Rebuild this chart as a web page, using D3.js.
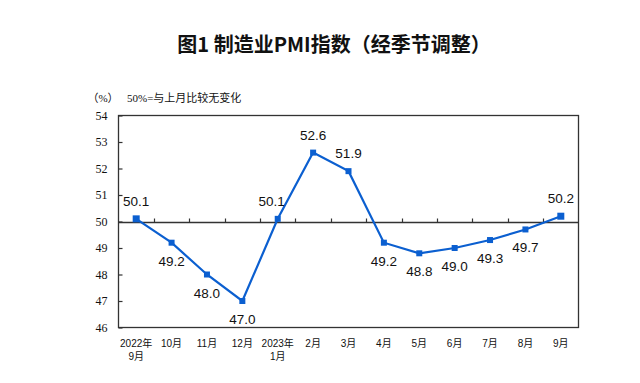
<!DOCTYPE html>
<html><head><meta charset="utf-8">
<script src="https://cdn.jsdelivr.net/npm/d3@7"></script>
<style>
html,body{margin:0;padding:0;background:#fff;}
svg{display:block;}
</style></head>
<body>
<svg id="c" width="640" height="383"></svg>
<script>
const categories = ["2022年\n9月","10月","11月","12月","2023年\n1月","2月","3月","4月","5月","6月","7月","8月","9月"];
const pmiValues = [50.1,49.2,48.0,47.0,50.1,52.6,51.9,49.2,48.8,49.0,49.3,49.7,50.2];
const labelSide = ["above","below","below","below","above","above","above","below","below","below","below","below","above"];
const yTicks = [46,47,48,49,50,51,52,53,54];
const titleText = "图1 制造业PMI指数（经季节调整）";
const unitText = "（%）";
const noteText = "50%=与上月比较无变化";

const svg = d3.select("#c");
const L = 118.5, R = 578.5, T = 115.5, B = 327.5;
const x = d3.scaleBand().domain(categories).range([L, R]).padding(0);
const y = d3.scaleLinear().domain([46,54]).range([B, T]);
const cx = d => x(d) + x.bandwidth()/2;
const blue = "#0b5fd0";
const axisColor = "#333";

// title
svg.append("text").attr("x", 334).attr("y", 52).attr("text-anchor","middle")
  .attr("font-family","'Noto Sans CJK SC'").attr("font-weight","bold").attr("font-size",20)
  .attr("fill","#111").text(titleText);
svg.append("text").attr("x", 103).attr("y", 102).attr("text-anchor","middle")
  .attr("font-family","'Liberation Serif','Noto Sans CJK SC'").attr("font-size",11).attr("fill","#111").text(unitText);
svg.append("text").attr("x", 127).attr("y", 102)
  .attr("font-family","'Liberation Serif','Noto Sans CJK SC'").attr("font-size",11).attr("fill","#111").text(noteText);

// frame
svg.append("rect").attr("x",L).attr("y",T).attr("width",R-L).attr("height",B-T)
  .attr("fill","none").attr("stroke",axisColor).attr("stroke-width",1.3);

// y axis
const yAxis = d3.axisLeft(y).tickValues(yTicks).tickSize(-4).tickPadding(10).tickFormat(d3.format("d"));
const ya = svg.append("g").attr("transform",`translate(${L},0)`).call(yAxis);
ya.select(".domain").remove();
ya.selectAll("line").attr("stroke",axisColor).attr("stroke-width",1.2);
ya.selectAll("text").attr("font-family","'Liberation Serif'").attr("font-size",12).attr("fill","#111").attr("x",-11);

// 50 baseline with category boundary ticks
const baseY = Math.round(y(50))+0.5;
const xAxis = d3.axisTop(x).tickSize(4).tickFormat("");
const xa = svg.append("g").attr("transform",`translate(0,${baseY})`).call(xAxis);
xa.select(".domain").attr("stroke",axisColor).attr("stroke-width",1.3).attr("d",`M${L},0H${R}`);
xa.selectAll(".tick").remove();
const bounds = categories.slice(1);
xa.selectAll("line.b").data(bounds).enter().append("line")
  .attr("x1",d=>Math.round(x(d))+0.5).attr("x2",d=>Math.round(x(d))+0.5)
  .attr("y1",0).attr("y2",-4).attr("stroke",axisColor).attr("stroke-width",1.2);

// x labels
const xl = svg.append("g");
categories.forEach(c => {
  const parts = c.split("\n");
  parts.forEach((p,i) => {
    xl.append("text").attr("x",cx(c)).attr("y",347 + i*13).attr("text-anchor","middle")
      .attr("font-family","'Liberation Sans','Noto Sans CJK SC'").attr("font-size",10).attr("fill","#111").text(p);
  });
});

// line
const data = categories.map((c,i)=>({c, v: pmiValues[i], side: labelSide[i], i}));
const line = d3.line().x(d=>cx(d.c)).y(d=>y(d.v));
svg.append("path").datum(data).attr("d",line).attr("fill","none")
  .attr("stroke",blue).attr("stroke-width",2.2);
svg.selectAll("rect.m").data(data).enter().append("rect")
  .attr("x",d=>cx(d.c)-((d.i===0||d.i===data.length-1)?3.5:3))
  .attr("y",d=>y(d.v)-((d.i===0||d.i===data.length-1)?3.5:3))
  .attr("width",d=>(d.i===0||d.i===data.length-1)?7:6)
  .attr("height",d=>(d.i===0||d.i===data.length-1)?7:6)
  .attr("fill",blue);

// value labels
svg.selectAll("text.v").data(data).enter().append("text")
  .attr("x",d=>cx(d.c) + (d.i===4 ? -6 : 0))
  .attr("y",d=>y(d.v) + (d.side==="above" ? -13 : 23))
  .attr("text-anchor","middle")
  .attr("font-family","'Liberation Sans'").attr("font-size",13.5).attr("fill","#111")
  .text(d=>d3.format(".1f")(d.v));
</script>
</body></html>
